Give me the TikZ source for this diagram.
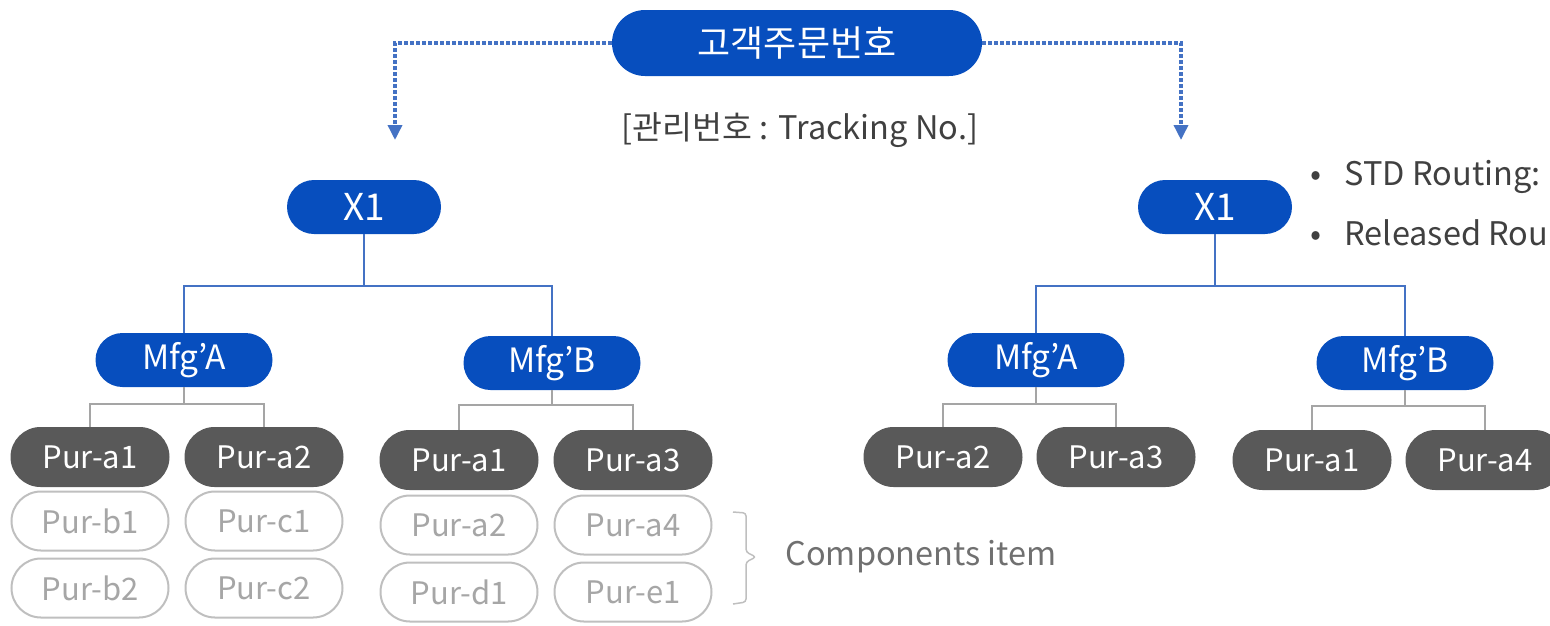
\documentclass[tikz,border=0pt]{standalone}
\usepackage{fontspec}
\setmainfont{Noto Sans CJK KR}
\usetikzlibrary{arrows.meta,shapes.misc}
\definecolor{orderblue}{RGB}{7,78,190}
\definecolor{linkblue}{RGB}{68,114,196}
\definecolor{purgray}{RGB}{89,89,89}
\definecolor{compgray}{RGB}{191,191,191}
\definecolor{comptext}{RGB}{166,166,166}
\definecolor{treegray}{RGB}{165,165,165}
\definecolor{labeltext}{RGB}{64,64,64}
\definecolor{notetext}{RGB}{112,112,112}
\tikzset{
  pill/.style={rounded rectangle, inner sep=0pt, text=white},
  bluepill/.style={pill, fill=orderblue, minimum height=54pt},
  x1pill/.style={bluepill, minimum width=154pt, font=\fontsize{37}{40}\selectfont},
  mfgpill/.style={bluepill, minimum width=177pt, font=\fontsize{33.5}{36}\selectfont},
  purpill/.style={pill, fill=purgray, minimum width=159pt, minimum height=60pt, font=\fontsize{31}{36}\selectfont},
  comppill/.style={pill, draw=compgray, line width=2pt, text=comptext, minimum width=157pt, minimum height=59pt, font=\fontsize{31}{36}\selectfont},
  blueline/.style={linkblue, line width=2pt},
  grayline/.style={treegray, line width=2.2pt},
  dotline/.style={linkblue, line width=3.5pt, dash pattern=on 3.5pt off 2.5pt, -{Triangle[width=14pt,length=15pt]}},
  note/.style={text=labeltext, font=\fontsize{32.5}{36}\selectfont},
}
\begin{document}
\begin{tikzpicture}[x=1pt,y=-1pt]
\useasboundingbox (0,0) rectangle (1550,625);

% order number and tracking label
\node[bluepill, minimum width=370pt, minimum height=66pt, font=\fontsize{36}{40}\selectfont] (order) at (797,43) {고객주문번호};
\node[note] (track) at (800,130) {[관리번호 : Tracking No.]};
\coordinate (tipl) at (395,140);
\coordinate (tipr) at (1181,140);
\draw[dotline] (order.west) -| (tipl);
\draw[dotline] (order.east) -| (tipr);

% left tree
\node[x1pill] (x1l) at (364,207) {X1};
\node[mfgpill] (mfgal) at (184,360) {Mfg'A};
\node[mfgpill] (mfgbl) at (552,363) {Mfg'B};
\coordinate (busl) at (364,286);
\draw[blueline] (x1l.south) -- (busl) -| (mfgal.north);
\draw[blueline] (busl) -| (mfgbl.north);

\node[purpill] (pa1l) at (90,457) {Pur-a1};
\node[purpill] (pa2l) at (264,457) {Pur-a2};
\node[comppill] (pb1) at (90,521) {Pur-b1};
\node[comppill] (pb2) at (90,588) {Pur-b2};
\node[comppill] (pc1) at (264,521) {Pur-c1};
\node[comppill] (pc2) at (264,588) {Pur-c2};
\coordinate (busal) at (184,404);
\draw[grayline] (mfgal.south) -- (busal) -| (pa1l.north);
\draw[grayline] (busal) -| (pa2l.north);

\node[purpill] (pa1m) at (459,460) {Pur-a1};
\node[purpill] (pa3m) at (633,460) {Pur-a3};
\node[comppill] (pa2m) at (459,525) {Pur-a2};
\node[comppill] (pd1) at (459,592) {Pur-d1};
\node[comppill] (pa4m) at (633,525) {Pur-a4};
\node[comppill] (pe1) at (633,592) {Pur-e1};
\coordinate (busbl) at (552,405);
\draw[grayline] (mfgbl.south) -- (busbl) -| (pa1m.north);
\draw[grayline] (busbl) -| (pa3m.north);

% components bracket
\draw[compgray, line width=1.5pt, rounded corners=3pt] (733,512) -- (746,513) -- (746,552) -- (756,557) -- (746,562) -- (746,602) -- (733,604);
\node[note, text=notetext, anchor=west] (comp) at (782,557) {Components item};

% right tree
\node[x1pill] (x1r) at (1215,207) {X1};
\node[mfgpill] (mfgar) at (1036,360) {Mfg'A};
\node[mfgpill] (mfgbr) at (1405,363) {Mfg'B};
\coordinate (busr) at (1215,286);
\draw[blueline] (x1r.south) -- (busr) -| (mfgar.north);
\draw[blueline] (busr) -| (mfgbr.north);

\node[purpill] (pa2r) at (943,457) {Pur-a2};
\node[purpill] (pa3r) at (1116,457) {Pur-a3};
\node[purpill] (pa1r) at (1312,460) {Pur-a1};
\node[purpill] (pa4r) at (1485,460) {Pur-a4};
\coordinate (busar) at (1036,404);
\draw[grayline] (mfgar.south) -- (busar) -| (pa2r.north);
\draw[grayline] (busar) -| (pa3r.north);
\coordinate (busbr) at (1405,406);
\draw[grayline] (mfgbr.south) -- (busbr) -| (pa1r.north);
\draw[grayline] (busbr) -| (pa4r.north);

% routing notes
\node[note, anchor=west] (stdr) at (1307,177) {•\hspace{23pt}STD Routing:};
\node[note, anchor=west] (relr) at (1307,233) {•\hspace{23pt}Released Rou};
\end{tikzpicture}
\end{document}
